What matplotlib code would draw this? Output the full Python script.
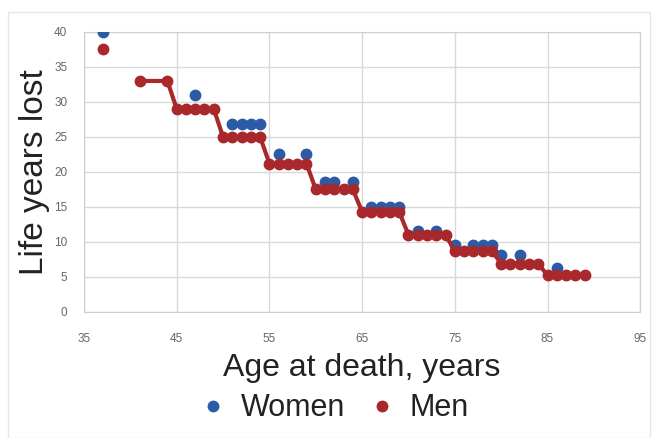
import numpy as np
import matplotlib.pyplot as plt
from matplotlib.patches import Rectangle

plt.rcParams['font.family'] = ['Liberation Sans', 'DejaVu Sans']

# age at death and life years lost
men_age = [37, 41, 44, 45, 46, 47, 48, 49, 50, 51, 52, 53, 54, 55, 56, 57, 58, 59,
           60, 61, 62, 63, 64, 65, 66, 67, 68, 69, 70, 71, 72, 73, 74,
           75, 76, 77, 78, 79, 80, 81, 82, 83, 84, 85, 86, 87, 88, 89]
men_yll = [37.5, 33, 33, 29, 29, 29, 29, 29, 25, 25, 25, 25, 25, 21.2, 21.2, 21.2, 21.2, 21.2,
           17.5, 17.5, 17.5, 17.5, 17.5, 14.3, 14.3, 14.3, 14.3, 14.3, 11, 11, 11, 11, 11,
           8.7, 8.7, 8.7, 8.7, 8.7, 6.9, 6.9, 6.9, 6.9, 6.9, 5.2, 5.2, 5.2, 5.2, 5.2]

women_age = [37, 47, 51, 52, 53, 54, 56, 59, 61, 62, 64, 66, 67, 68, 69,
             71, 73, 75, 77, 78, 79, 80, 82, 86]
women_yll = [40, 31, 26.8, 26.8, 26.8, 26.8, 22.5, 22.5, 18.5, 18.5, 18.5, 15, 15, 15, 15,
             11.6, 11.6, 9.6, 9.6, 9.6, 9.6, 8.1, 8.1, 6.3]

xticks = [35, 45, 55, 65, 75, 85, 95]
yticks = [0, 5, 10, 15, 20, 25, 30, 35, 40]

blue = '#2c5ba6'
red = '#a8282b'
ms = 7.5

fig = plt.figure(figsize=(6.56, 4.38), dpi=100)
fig.patches.append(Rectangle((8 / 656, 0.0), 642 / 656, 1 - 12 / 438, transform=fig.transFigure,
                             fill=False, edgecolor='#e6e6e6', linewidth=1))
ax = fig.add_axes([0.128, 0.288, 0.848, 0.639])

ax.plot(women_age, women_yll, 'o', color=blue, markersize=ms, label='Women', zorder=3)
# men: isolated first point, then connected line
ax.plot(men_age[:1], men_yll[:1], 'o', color=red, markersize=ms, zorder=4)
ax.plot(men_age[1:], men_yll[1:], '-o', color=red, markersize=ms, linewidth=3, zorder=4)
ax.plot([], [], 'o', color=red, markersize=ms, label='Men')

ax.set_xlim(35, 95)
ax.set_ylim(0, 40)
ax.set_xticks(xticks)
ax.set_yticks(yticks)
ax.grid(True, color='#d9d9d9', linewidth=1)
ax.set_axisbelow(True)
for s in ax.spines.values():
    s.set_color('#d0d0d0')
ax.tick_params(length=0, labelsize=8.5, labelcolor='#666666')
ax.tick_params(axis='x', pad=15)
ax.tick_params(axis='y', pad=12)

ax.set_xlabel('Age at death, years', fontsize=23, color='#222222', labelpad=6)
ax.set_ylabel('Life years lost', fontsize=24, color='#222222', labelpad=3)

fig.legend(*ax.get_legend_handles_labels(), loc='center', bbox_to_anchor=(0.506, 0.068),
           ncol=2, frameon=False, fontsize=22, handletextpad=0.3, columnspacing=0.6,
           markerscale=1.0, labelcolor='#222222', handlelength=1.2)

fig.savefig('out.png', dpi=100)
